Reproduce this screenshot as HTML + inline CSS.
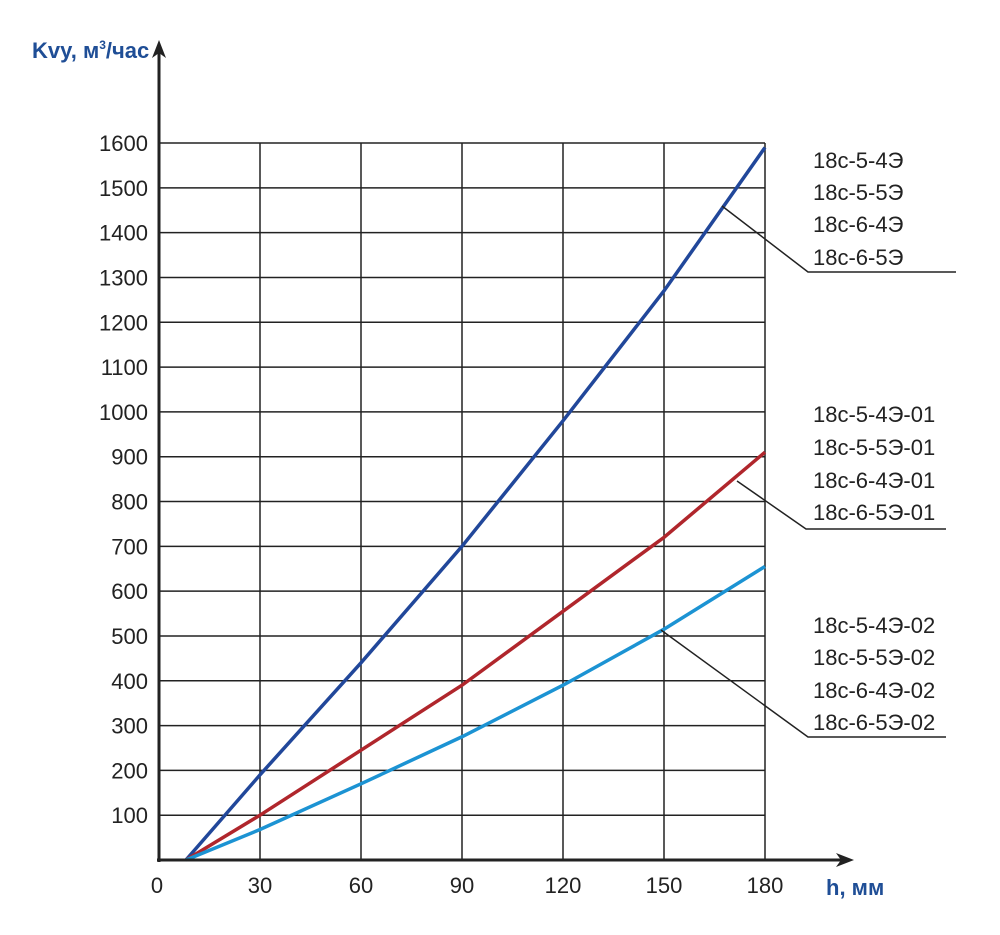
<!DOCTYPE html>
<html><head><meta charset="utf-8"><style>
body{margin:0;background:#fff}
text{font-family:"Liberation Sans Narrow","Liberation Sans",sans-serif;fill:#222}
</style></head><body>
<svg width="1000" height="930" viewBox="0 0 1000 930">
<g id="grid"></g>
<g id="series"></g>
<g id="axes">
<line x1="159" y1="862" x2="159" y2="48" stroke="#222" stroke-width="3"/>
<polygon points="159,40 152,58 159,53 166,58" fill="#222"/>
<line x1="157" y1="860" x2="845" y2="860" stroke="#222" stroke-width="3"/>
<polygon points="854,860 836,853 841,860 836,867" fill="#222"/>
</g>
<text x="32" y="58" font-size="22" font-weight="bold" style="fill:#1f4e96">Kvy, м<tspan dy="-9" font-size="12">3</tspan><tspan dy="9">/час</tspan></text>
<text x="826" y="895" font-size="22" font-weight="bold" style="fill:#1f4e96">h, мм</text>
<g id="labels"></g>
<g font-size="22">
<text x="813" y="168">18с-5-4Э</text>
<text x="813" y="200">18с-5-5Э</text>
<text x="813" y="232">18с-6-4Э</text>
<text x="813" y="265">18с-6-5Э</text>
<polyline points="722,206 808,272 956,272" fill="none" stroke="#222" stroke-width="1.5"/>
<text x="813" y="422">18с-5-4Э-01</text>
<text x="813" y="455">18с-5-5Э-01</text>
<text x="813" y="488">18с-6-4Э-01</text>
<text x="813" y="520">18с-6-5Э-01</text>
<polyline points="737,481 806,529 946,529" fill="none" stroke="#222" stroke-width="1.5"/>
<text x="813" y="633">18с-5-4Э-02</text>
<text x="813" y="665">18с-5-5Э-02</text>
<text x="813" y="698">18с-6-4Э-02</text>
<text x="813" y="730">18с-6-5Э-02</text>
<polyline points="661,630 808,737 946,737" fill="none" stroke="#222" stroke-width="1.5"/>
</g>
</svg>
<script>
const xTicks=[0,30,60,90,120,150,180];
const yTicks=[100,200,300,400,500,600,700,800,900,1000,1100,1200,1300,1400,1500,1600];
const hValues=[8,30,60,90,120,150,180];
const seriesNames=["18c-x-xE","18c-x-xE-01","18c-x-xE-02"];
const seriesColors=["#21479a","#b0262c","#1c93d3"];
const blueValues=[0,190,440,700,980,1270,1590];
const redValues=[0,100,245,390,555,720,910];
const cyanValues=[0,68,170,275,390,515,655];
const seriesData=[blueValues,redValues,cyanValues];
const ns="http://www.w3.org/2000/svg";
function xs(v){return 159+v*(765-159)/180;}
function ys(v){return 860-v*(860-143)/1600;}
const grid=document.getElementById('grid'),labels=document.getElementById('labels'),ser=document.getElementById('series');
xTicks.forEach(t=>{
 if(t>0){const l=document.createElementNS(ns,'line');
 
 
 l.setAttribute('x1',xs(t));l.setAttribute('x2',xs(t));l.setAttribute('y1',ys(1600));l.setAttribute('y2',860);
 l.setAttribute('stroke','#222');l.setAttribute('stroke-width','1.5');grid.appendChild(l);}
 const tx=document.createElementNS(ns,'text');
 
 
 tx.setAttribute('x',t===0?xs(t)-2:xs(t));tx.setAttribute('y',893);tx.setAttribute('font-size','22');tx.setAttribute('text-anchor','middle');
 tx.textContent=t;labels.appendChild(tx);
});
yTicks.forEach(t=>{
 const l=document.createElementNS(ns,'line');
 
 
 l.setAttribute('x1',159);l.setAttribute('x2',xs(180));l.setAttribute('y1',ys(t));l.setAttribute('y2',ys(t));
 l.setAttribute('stroke','#222');l.setAttribute('stroke-width','1.5');grid.appendChild(l);
 const tx=document.createElementNS(ns,'text');
 
 
 tx.setAttribute('x',148);tx.setAttribute('y',ys(t)+8);tx.setAttribute('font-size','22');tx.setAttribute('text-anchor','end');
 tx.textContent=t;labels.appendChild(tx);
});
seriesData.forEach((vals,i)=>{
 const p=document.createElementNS(ns,'polyline');
 
 
 p.setAttribute('points',vals.map((v,j)=>xs(hValues[j])+','+ys(v)).join(' '));
 p.setAttribute('fill','none');p.setAttribute('stroke',seriesColors[i]);p.setAttribute('stroke-width','3.5');
 ser.appendChild(p);
});
</script>
</body></html>
